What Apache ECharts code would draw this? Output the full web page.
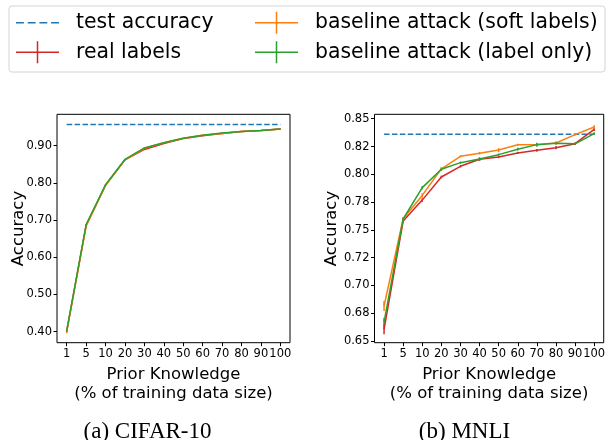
<!DOCTYPE html>
<html><head><meta charset="utf-8">
<script src="https://cdn.jsdelivr.net/npm/echarts@6/dist/echarts.min.js"></script>
<style>html,body{margin:0;padding:0;background:#fff}#c{width:608px;height:440px}</style>
</head><body><div id="c"></div>
<script>
const categories = ['1','5','10','20','30','40','50','60','70','80','90','100'];

// CIFAR-10
const cifarTest = 0.957;
const cifarReal  = [0.401, 0.686, 0.794, 0.862, 0.890, 0.906, 0.919, 0.927, 0.933, 0.938, 0.941, 0.945];
const cifarSoft  = [0.400, 0.684, 0.793, 0.862, 0.893, 0.908, 0.920, 0.928, 0.933, 0.938, 0.941, 0.945];
const cifarLabel = [0.402, 0.688, 0.795, 0.863, 0.894, 0.908, 0.920, 0.928, 0.934, 0.938, 0.941, 0.945];
const cifarRealErr  = [0.002, 0.001, 0.001, 0.001, 0.001, 0.001, 0.001, 0.001, 0.001, 0.001, 0.001, 0.001];
const cifarSoftErr  = [0.004, 0.001, 0.001, 0.001, 0.001, 0.001, 0.001, 0.001, 0.001, 0.001, 0.001, 0.001];
const cifarLabelErr = [0.002, 0.001, 0.001, 0.001, 0.001, 0.001, 0.001, 0.001, 0.001, 0.001, 0.001, 0.001];
const cifarTickValues = [0.40, 0.50, 0.60, 0.70, 0.80, 0.90];
const cifarTickLabels = ['0.40', '0.50', '0.60', '0.70', '0.80', '0.90'];

// MNLI
const mnliTest = 0.836;
const mnliReal  = [0.6605, 0.758, 0.7768, 0.7976, 0.8072, 0.8135, 0.8156, 0.8192, 0.8216, 0.8240, 0.8276, 0.8405];
const mnliSoft  = [0.6815, 0.760, 0.7810, 0.8050, 0.8162, 0.8190, 0.8218, 0.8266, 0.8268, 0.8282, 0.8357, 0.8426];
const mnliLabel = [0.6670, 0.7598, 0.7880, 0.8045, 0.8105, 0.8137, 0.8177, 0.8226, 0.8267, 0.8280, 0.8274, 0.8366];
const mnliRealErr  = [0.0045, 0.0015, 0.0015, 0.0012, 0.0010, 0.0015, 0.0010, 0.0010, 0.0012, 0.0015, 0.0010, 0.0015];
const mnliSoftErr  = [0.0045, 0.0012, 0.0020, 0.0012, 0.0010, 0.0012, 0.0018, 0.0010, 0.0012, 0.0015, 0.0010, 0.0015];
const mnliLabelErr = [0.0040, 0.0015, 0.0015, 0.0015, 0.0010, 0.0015, 0.0010, 0.0012, 0.0018, 0.0010, 0.0010, 0.0012];
const mnliTickValues = [0.65, 0.675, 0.70, 0.725, 0.75, 0.775, 0.80, 0.825, 0.85];
const mnliTickLabels = ['0.65', '0.68', '0.70', '0.72', '0.75', '0.78', '0.80', '0.82', '0.85'];

const seriesNames = ['test accuracy', 'real labels', 'baseline attack (soft labels)', 'baseline attack (label only)'];
const colors = ['#1f77b4', '#d62728', '#ff7f0e', '#2ca02c'];

const FONT = 'DejaVu Sans';
const chart = echarts.init(document.getElementById('c'), null, {renderer: 'canvas'});

const crossIcon = 'path://M0,10.25 L43,10.25 L43,11.75 L0,11.75 Z M20.75,0 L22.25,0 L22.25,22 L20.75,22 Z M54.99,11 L55,11 L55,11.001 Z';
const dashIcon = 'path://M0,0 L0.001,0 L0.001,0.001 Z M0,22 L0.001,22 L0.001,21.999 Z M54.99,11 L55,11 L55,11.001 Z ' +
  'M0,10.25 L7.9,10.25 L7.9,11.75 L0,11.75 Z M11.7,10.25 L19.6,10.25 L19.6,11.75 L11.7,11.75 Z ' +
  'M23.4,10.25 L31.3,10.25 L31.3,11.75 L23.4,11.75 Z M35.1,10.25 L43,10.25 L43,11.75 L35.1,11.75 Z';

function errRender(params, api) {
  const x = api.value(0);
  const p1 = api.coord([x, api.value(1)]);
  const p2 = api.coord([x, api.value(2)]);
  return {type: 'line', shape: {x1: p1[0], y1: p1[1], x2: p2[0], y2: p2[1]},
    style: {stroke: api.visual('color'), lineWidth: 1.5}};
}

function makeSeries(gi, test, lines, errs) {
  const out = [];
  out.push({type: 'line', name: seriesNames[0], xAxisIndex: gi, yAxisIndex: gi,
    data: [[categories[0], test], [categories[categories.length - 1], test]],
    symbol: 'none', color: colors[0], lineStyle: {width: 1.5, type: [5.5, 2.4], color: colors[0]},
    silent: true, animation: false});
  lines.forEach((vals, k) => {
    out.push({type: 'line', name: seriesNames[k + 1], xAxisIndex: gi, yAxisIndex: gi,
      data: vals, symbol: 'none', color: colors[k + 1],
      lineStyle: {width: 1.5, color: colors[k + 1]}, animation: false});
    out.push({type: 'custom', name: seriesNames[k + 1], xAxisIndex: gi, yAxisIndex: gi,
      renderItem: errRender, itemStyle: {color: colors[k + 1]}, color: colors[k + 1],
      data: vals.map((v, i) => [i, v - errs[k][i], v + errs[k][i]]),
      encode: {x: 0, y: [1, 2]}, animation: false});
  });
  return out;
}

function xAxis(gi) {
  return {type: 'category', gridIndex: gi, data: categories, boundaryGap: true,
    axisLine: {show: false},
    axisTick: {show: true, alignWithLabel: true, interval: 0, length: 3.5, lineStyle: {color: '#000', width: 1}},
    axisLabel: {interval: 0, margin: 5, fontFamily: FONT, fontSize: 11.5, color: '#000'},
    name: 'Prior Knowledge\n(% of training data size)', nameLocation: 'middle', nameGap: 16,
    nameTextStyle: {fontFamily: FONT, fontSize: 16.5, color: '#000', lineHeight: 19.5, verticalAlign: 'top'},
    splitLine: {show: false}};
}

function yAxis(gi, min, max, tv, tl, gap) {
  return {type: 'value', gridIndex: gi, min: min, max: max,
    axisLine: {show: false},
    axisTick: {show: true, length: 3.5, customValues: tv, lineStyle: {color: '#000', width: 1}},
    axisLabel: {customValues: tv, margin: 5, fontFamily: FONT, fontSize: 11.5, color: '#000',
      formatter: v => { let best = 0; tv.forEach((t, i) => { if (Math.abs(t - v) < Math.abs(tv[best] - v)) best = i; }); return tl[best]; }},
    name: 'Accuracy', nameLocation: 'middle', nameGap: gap, nameMoveOverlap: false,
    nameTextStyle: {fontFamily: FONT, fontSize: 16.5, color: '#000'},
    splitLine: {show: false}};
}

const option = {
  backgroundColor: '#fff',
  animation: false,
  grid: [
    {left: 57, top: 114.3, width: 233, height: 228.4, show: true, borderColor: '#000', borderWidth: 1, backgroundColor: 'transparent'},
    {left: 374.5, top: 114.3, width: 232.5, height: 228.4, show: true, borderColor: '#000', borderWidth: 1, backgroundColor: 'transparent'}
  ],
  xAxis: [xAxis(0), xAxis(1)],
  yAxis: [
    yAxis(0, 0.3704, 0.9844, cifarTickValues, cifarTickLabels, 30),
    yAxis(1, 0.6485, 0.854, mnliTickValues, mnliTickLabels, 34)
  ],
  legend: [
    {left: 16, top: 11.7, orient: 'vertical', itemWidth: 55, itemHeight: 22, itemGap: 7.6, padding: 0,
      itemStyle: {borderWidth: 0}, selectedMode: false,
      textStyle: {fontFamily: FONT, fontSize: 20.4, color: '#000'},
      data: [{name: seriesNames[0], icon: dashIcon}, {name: seriesNames[1], icon: crossIcon}]},
    {left: 255, top: 11.7, orient: 'vertical', itemWidth: 55, itemHeight: 22, itemGap: 7.6, padding: 0,
      itemStyle: {borderWidth: 0}, selectedMode: false,
      textStyle: {fontFamily: FONT, fontSize: 20.4, color: '#000'},
      data: [{name: seriesNames[2], icon: crossIcon}, {name: seriesNames[3], icon: crossIcon}]}
  ],
  graphic: [
    {type: 'rect', left: 8.5, top: 5.5, z: -10, silent: true,
      shape: {width: 596, height: 66, r: 3}, style: {fill: '#fff', stroke: '#d4d4d4', lineWidth: 1}},
    {type: 'text', x: 147.5, y: 431.7, silent: true,
      style: {text: '(a) CIFAR-10', fontFamily: 'Liberation Serif', fontSize: 23, fill: '#000', align: 'center', verticalAlign: 'middle'}},
    {type: 'text', x: 464.5, y: 431.7, silent: true,
      style: {text: '(b) MNLI', fontFamily: 'Liberation Serif', fontSize: 23, fill: '#000', align: 'center', verticalAlign: 'middle'}}
  ],
  series: [].concat(
    makeSeries(0, cifarTest, [cifarReal, cifarSoft, cifarLabel], [cifarRealErr, cifarSoftErr, cifarLabelErr]),
    makeSeries(1, mnliTest, [mnliReal, mnliSoft, mnliLabel], [mnliRealErr, mnliSoftErr, mnliLabelErr])
  )
};
chart.setOption(option);
</script>
</body></html>
